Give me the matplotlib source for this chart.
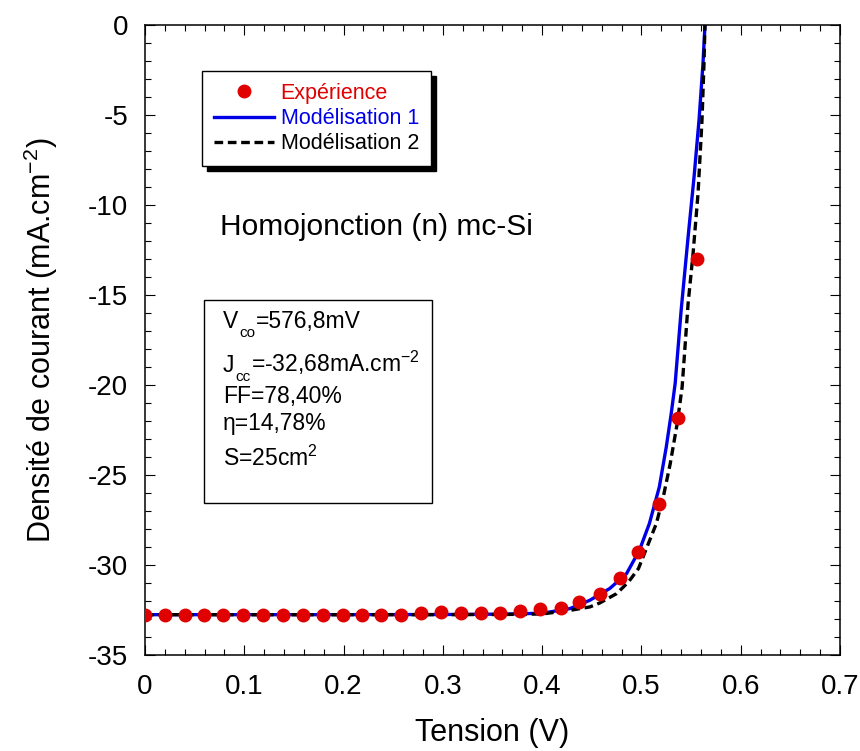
import matplotlib
matplotlib.use('Agg')
import matplotlib.pyplot as plt
from matplotlib.patches import Rectangle
from matplotlib.lines import Line2D

plt.rcParams['font.family'] = ['Liberation Sans', 'DejaVu Sans']
plt.rcParams['axes.unicode_minus'] = False
plt.rcParams['mathtext.fontset'] = 'custom'
plt.rcParams['mathtext.rm'] = 'Liberation Sans'
plt.rcParams['mathtext.default'] = 'regular'

# experimental points (V, mA/cm2)
v_exp = [0, 0.02, 0.04, 0.059, 0.079, 0.099, 0.119, 0.139, 0.159, 0.179,
         0.199, 0.219, 0.238, 0.258, 0.278, 0.298, 0.318, 0.338, 0.358, 0.378,
         0.398, 0.419, 0.437, 0.458, 0.478, 0.497, 0.518, 0.537, 0.556]
j_exp = [-32.76, -32.76, -32.76, -32.76, -32.76, -32.76, -32.76, -32.76, -32.76, -32.76,
         -32.76, -32.76, -32.76, -32.76, -32.65, -32.62, -32.65, -32.65, -32.65, -32.56,
         -32.46, -32.40, -32.06, -31.59, -30.72, -29.28, -26.59, -21.83, -12.98]

# model 1
v_mod1 = [0, 0.1, 0.2, 0.3, 0.36, 0.40, 0.428, 0.448, 0.468, 0.485, 0.498,
          0.508, 0.518, 0.525, 0.530, 0.534, 0.540, 0.547, 0.553, 0.558, 0.562, 0.564]
j_mod1 = [-32.76, -32.76, -32.76, -32.75, -32.73, -32.68, -32.42, -31.96, -31.31, -30.48, -29.18,
          -27.7, -25.67, -23.45, -21.59, -19.9, -15.85, -11.78, -8.44, -5.29, -2.14, 0.0]

# model 2
v_mod2 = [0, 0.1, 0.2, 0.3, 0.36, 0.40, 0.428, 0.448, 0.458, 0.475, 0.487, 0.497,
          0.507, 0.515, 0.522, 0.529, 0.536, 0.541, 0.547, 0.552, 0.557, 0.561, 0.563, 0.564]
j_mod2 = [-32.76, -32.76, -32.76, -32.76, -32.75, -32.72, -32.52, -32.33, -32.11, -31.59, -30.94, -30.2,
          -28.81, -27.7, -26.22, -24.37, -22.15, -20.11, -15.48, -12.7, -9.37, -5.29, -2.14, 0.0]

xticks = [0, 0.1, 0.2, 0.3, 0.4, 0.5, 0.6, 0.7]
xtick_labels = ['0', '0.1', '0.2', '0.3', '0.4', '0.5', '0.6', '0.7']
yticks = [0, -5, -10, -15, -20, -25, -30, -35]

# (symbol, subscript, rest) for the lines with a subscript, then plain lines
sub_lines = [('V', 'co', '=576,8mV'), ('J', 'cc', '=-32,68mA.cm$^{-2}$')]
plain_lines = ['FF=78,40%', 'η=14,78%', 'S=25cm$^{2}$']

W, H = 860, 751
fig = plt.figure(figsize=(W / 100, H / 100), dpi=100)
ax = fig.add_axes([145 / W, 1 - 655 / H, 695 / W, 630 / H])


def fxy(x, y):
    return x / W, 1 - y / H


red = '#e00000'
blue = '#0000e8'

ax.plot(v_mod1, j_mod1, color=blue, lw=2.4, zorder=2, label='Modélisation 1')
ax.plot(v_mod2, j_mod2, color='black', lw=2.4, dashes=(2.6, 1.4), zorder=3, label='Modélisation 2')
ax.plot(v_exp, j_exp, 'o', color=red, ms=9, zorder=4, label='Expérience')

ax.set_xlim(0, 0.7)
ax.set_ylim(-35, 0)
ax.set_xticks(xticks)
ax.set_xticklabels(xtick_labels)
ax.set_yticks(yticks)
ax.set_xticks([i * 0.02 for i in range(36)], minor=True)
ax.set_yticks(list(range(-35, 1)), minor=True)
ax.tick_params(which='both', direction='in', top=True, right=True, width=0.8, labelsize=20)
ax.tick_params(axis='x', which='both', pad=14)
ax.tick_params(axis='y', which='both', pad=12)
ax.tick_params(which='major', length=7.5)
ax.tick_params(which='minor', length=4)
for s in ax.spines.values():
    s.set_linewidth(1.1)

ax.set_xlabel('Tension (V)', fontsize=22)
ax.xaxis.set_label_coords(0.5, -0.1)
ax.set_ylabel('Densité de courant (mA.cm$^{-2}$)', fontsize=22)
ax.yaxis.set_label_coords(-0.122, 0.5)

# legend
handles = [Line2D([], [], marker='o', ls='none', color=red, ms=9),
           Line2D([], [], color=blue, lw=2.4),
           Line2D([], [], color='black', lw=2.4, dashes=(2.6, 1.4))]
leg = ax.legend(handles, ['Expérience', 'Modélisation 1', 'Modélisation 2'],
                loc='upper left', bbox_to_anchor=fxy(202, 71), bbox_transform=fig.transFigure,
                fontsize=15.5, labelcolor=[red, blue, 'black'], frameon=True, fancybox=False,
                edgecolor='black', framealpha=1, borderaxespad=0, borderpad=0.55,
                handlelength=2.8, handletextpad=0.3, labelspacing=0.2, numpoints=1,
                shadow={'color': 'black', 'alpha': 1, 'ox': 3.6, 'oy': -3.6})
leg.get_frame().set_linewidth(1.0)

fig.text(*fxy(220, 235), 'Homojonction (n) mc-Si', fontsize=21.5, va='baseline', ha='left')

# parameters box
x0, y0 = fxy(204, 503)
x1, y1 = fxy(432, 300)
fig.add_artist(Rectangle((x0, y0), x1 - x0, y1 - y0, transform=fig.transFigure,
                         fill=False, edgecolor='black', lw=1.0))

fs_box = 16.5
sub_base = [328, 372]
for (sym, sub, rest), yb in zip(sub_lines, sub_base):
    t = fig.text(*fxy(223, yb), sym, fontsize=fs_box, va='baseline', ha='left')
    s = ax.annotate(sub, xy=(1, 0), xycoords=t, xytext=(0.5, -5), textcoords='offset points',
                    fontsize=11, va='bottom', ha='left', annotation_clip=False)
    ax.annotate(rest, xy=(1, 0), xycoords=(s, t), xytext=(0.5, 0), textcoords='offset points',
                fontsize=fs_box, va='bottom', ha='left', annotation_clip=False)

plain_base = [403, 430, 466]
for txt, yb in zip(plain_lines, plain_base):
    fig.text(*fxy(223, yb), txt, fontsize=fs_box, va='baseline', ha='left')

fig.savefig('out.png', dpi=100)
